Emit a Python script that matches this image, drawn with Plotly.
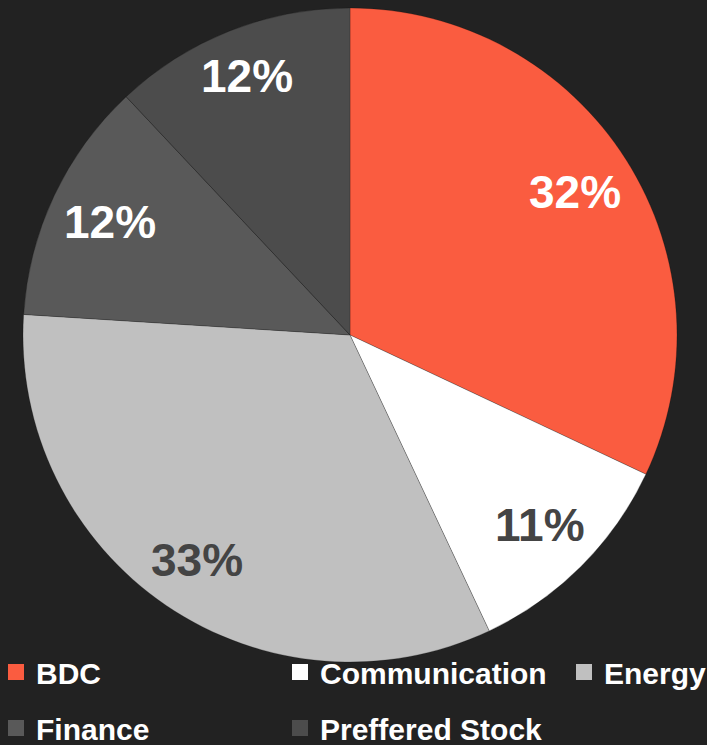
import math
import plotly.graph_objects as go

# ---- data ----
categories = ["BDC", "Communication", "Energy", "Finance", "Preffered Stock"]
values = [32, 11, 33, 12, 12]
slice_colors = ["#FA5C40", "#FFFFFF", "#C0C0C0", "#595959", "#4C4C4C"]
label_colors = ["#FFFFFF", "#444444", "#444444", "#FFFFFF", "#FFFFFF"]

# ---- layout constants (pixels) ----
W, H = 707, 745
CX, CY, R = 350, 335, 327
BG = "#222222"
FONT = "Liberation Sans"

fig = go.Figure()
fig.add_trace(go.Pie(
    labels=categories,
    values=values,
    sort=False,
    direction="clockwise",
    rotation=0,
    marker=dict(colors=slice_colors, line=dict(color="rgba(0,0,0,0.35)", width=0.6)),
    textinfo="none",
    hoverinfo="label+percent",
    showlegend=False,
    domain=dict(x=[(CX - R) / W, (CX + R) / W], y=[1 - (CY + R) / H, 1 - (CY - R) / H]),
))

# percentage labels placed at mid-angle of each slice
total = sum(values)
cum = 0
annotations = []
HW, HH = 40, 17
for v, col in zip(values, label_colors):
    mid = (cum + v / 2) / total * 2 * math.pi
    cum += v
    s, c = math.sin(mid), math.cos(mid)
    rho = 0.945 * R - (abs(s) * HW + abs(c) * HH)
    px = CX + rho * s
    py = CY - rho * c
    annotations.append(dict(
        x=px / W, y=1 - py / H, xref="paper", yref="paper",
        text=f"{round(v / total * 100)}%", showarrow=False,
        xanchor="center", yanchor="middle",
        font=dict(family=FONT, size=46, color=col, weight="bold"),
    ))

# legend entries laid out as a 3-column grid
legend_names = ["legend", "legend2", "legend3", "legend4", "legend5"]
col_px = [-4, 280, 564]
row_px = [672, 728]
legend_layout = {}
for i, (name, color, lg) in enumerate(zip(categories, slice_colors, legend_names)):
    fig.add_trace(go.Scatter(
        x=[None], y=[None], mode="markers", name=name,
        marker=dict(symbol="square", size=16, color=color),
        legend=lg, showlegend=True, hoverinfo="skip",
    ))
    cx = col_px[i % 3]
    cy = row_px[i // 3]
    legend_layout[lg] = dict(
        x=cx / W, y=1 - (cy - 26) / H, xanchor="left", yanchor="top",
        bgcolor="rgba(0,0,0,0)", borderwidth=0,
        font=dict(family=FONT, size=30, color="#FFFFFF", weight="bold"),
    )

fig.update_layout(
    width=W, height=H,
    margin=dict(l=0, r=0, t=0, b=0, autoexpand=False),
    paper_bgcolor=BG, plot_bgcolor=BG,
    xaxis=dict(visible=False), yaxis=dict(visible=False),
    annotations=annotations,
    font=dict(family=FONT),
    **legend_layout,
)

fig.write_html(
    "out.html",
    config={"displayModeBar": False},
    post_script="document.body.style.margin='0';document.body.style.background='#222222';",
)
